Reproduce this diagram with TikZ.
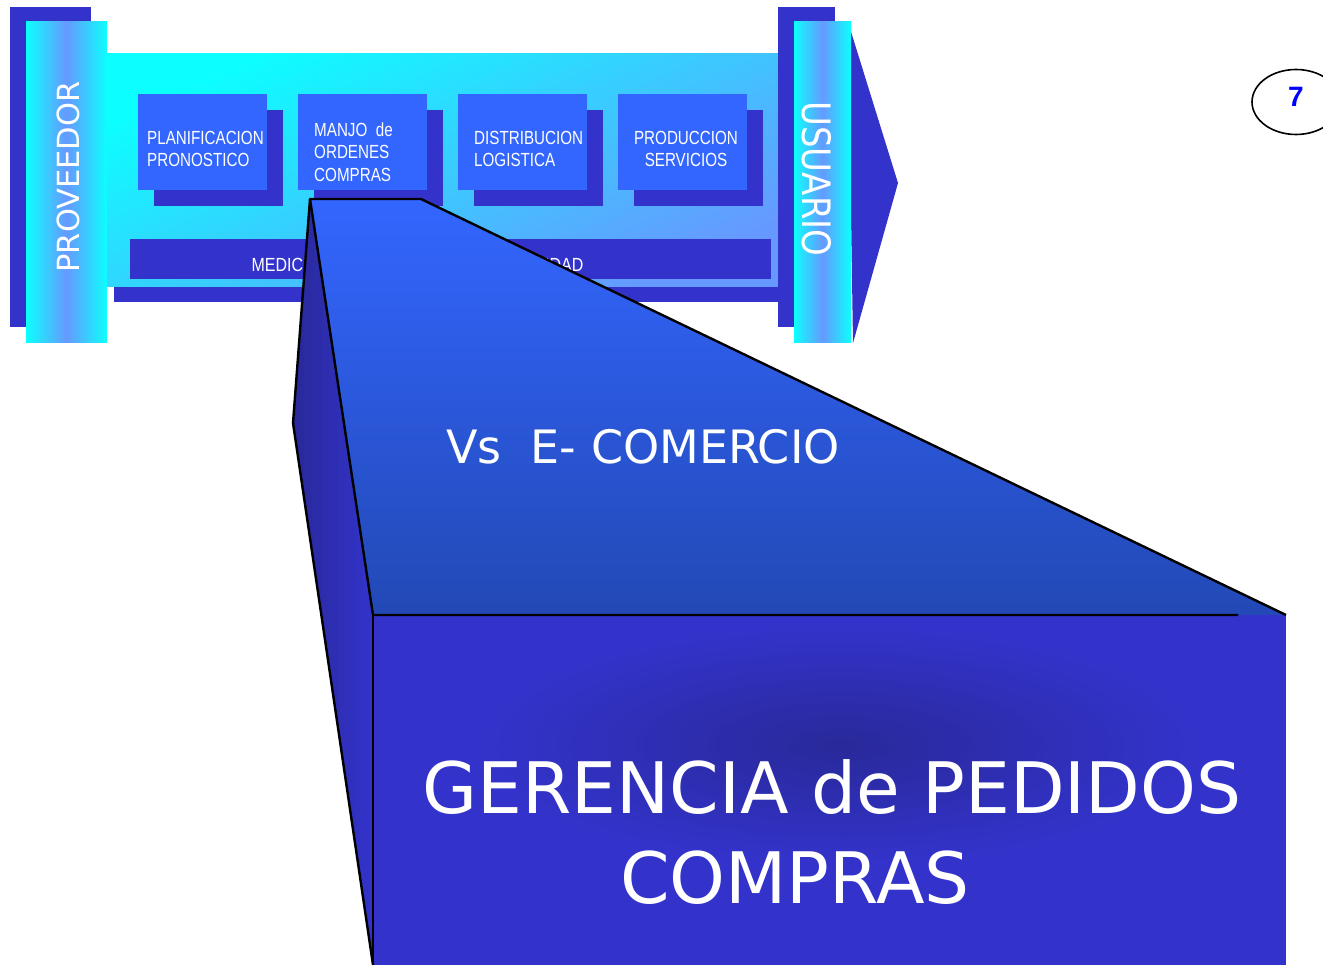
\documentclass[tikz,border=0pt]{standalone}
\usepackage{fontspec}
\usepackage{xcolor}
\usepackage{tikz}
\usetikzlibrary{shapes.geometric, shadows}
\newfontfamily\stagefont[FakeStretch=0.8]{Liberation Sans}
\newfontfamily\headfont{DejaVu Sans}
\newfontfamily\numfont{Liberation Sans}
\definecolor{indigo}{HTML}{3333CC}
\definecolor{royal}{HTML}{3366FF}
\definecolor{periwinkle}{HTML}{6699FF}
\definecolor{aqua}{HTML}{0CFFFF}
\definecolor{deepindigo}{HTML}{29299A}
\definecolor{steel}{HTML}{2249B5}
\tikzset{
    stage/.style={fill=royal, minimum width=129pt, minimum height=96pt, inner sep=0pt,
        drop shadow={shadow xshift=16pt, shadow yshift=-16pt, opacity=1, fill=indigo}},
    stagetext/.style={text=white, inner sep=0pt, align=left, font=\stagefont\fontsize{19}{22.5}\selectfont},
    pillar/.style={left color=aqua, right color=aqua, middle color=periwinkle},
    pillartext/.style={text=white, inner sep=0pt, font=\headfont\fontsize{30.5}{36}\selectfont},
    headtext/.style={text=white, inner sep=0pt, anchor=base},
    outline/.style={draw=black, line width=2.4pt, line join=round}
}

\begin{document}
\begin{tikzpicture}[x=1pt, y=-1pt]
    \useasboundingbox (0,0) rectangle (1323,965);
    % proveedor
    \fill[indigo] (10,7) rectangle (91,327);
    \shade[pillar] (26,22) rectangle (107,343);
    \node[pillartext, rotate=90] (proveedor) at (68.5,177) {PROVEEDOR};
    % cadena
    \fill[indigo] (114,70) rectangle (778,302);
    \shade[top color=aqua, bottom color=periwinkle, shading angle=25] (107,54) rectangle (778,287);
    % usuario
    \fill[indigo] (778,7) rectangle (835,327);
    \fill[indigo] (848,22) -- (898,183) -- (853,343) -- cycle;
    \shade[pillar] (794,22) rectangle (851,343);
    \node[pillartext, font=\headfont\fontsize{34}{40}\selectfont, rotate=-90] (usuario) at (817,179) {\scalebox{1}[1.15]{USUARIO}};
    % etapas
    \node[stage] (plan) at (202.5,142) {};
    \node[stage] (ordenes) at (362.5,142) {};
    \node[stage] (distrib) at (522.5,142) {};
    \node[stage] (produc) at (682.5,142) {};
    \node[stagetext, anchor=west] (plantext) at (147,149) {PLANIFICACION\\PRONOSTICO};
    \node[stagetext, anchor=west] (ordtext) at (314,152) {MANJO\ \ de\\ORDENES\\COMPRAS};
    \node[stagetext, anchor=west] (distext) at (474,149) {DISTRIBUCION\\LOGISTICA};
    \node[stagetext, align=center] (prodtext) at (686,149) {PRODUCCION\\SERVICIOS};
    \fill[indigo] (130,239) rectangle (771,279);
    \node[stagetext, anchor=base] (medicion) at (417.5,272) {\scalebox{1.05}[1]{MEDICION DE CALIDAD Y PRODUCTIVIDAD}};
    % zoom
    \coordinate (apex) at (310,199);
    \coordinate (apexr) at (421,199);
    \coordinate (knee) at (293,423);
    \coordinate (frontnw) at (373,615);
    \coordinate (frontne) at (1286,615);
    \coordinate (frontsw) at (373,965);
    \coordinate (frontse) at (1286,965);
    \coordinate (lipend) at (1238,615);
    \shade[top color=royal, bottom color=steel] (apex) -- (apexr) -- (frontne) -- (frontnw) -- cycle;
    \shade[left color=deepindigo, right color=indigo] (apex) -- (knee) -- (frontsw) -- (frontnw) -- cycle;
    \fill[indigo] (frontnw) rectangle (frontse);
    \begin{scope}
        \clip (frontnw) rectangle (frontse);
        \shade[inner color=deepindigo, outer color=indigo] (840,745) ellipse [x radius=360, y radius=120];
    \end{scope}
    \draw[outline] (knee) -- (apex) -- (apexr) -- (frontne);
    \draw[outline] (apex) -- (frontnw) -- (lipend);
    \draw[outline] (knee) -- (frontsw);
    \draw[outline] (frontnw) -- (frontsw);
    \node[headtext, font=\headfont\fontsize{46}{55}\selectfont] (versus) at (643,464) {Vs\ \ E- COMERCIO};
    \node[headtext, font=\headfont\fontsize{71}{85}\selectfont] (gerencia) at (832,813) {GERENCIA de PEDIDOS};
    \node[headtext, font=\headfont\fontsize{71}{85}\selectfont] (compras) at (795,903) {COMPRAS};
    % pagina
    \node[draw, ellipse, line width=1.6pt, minimum width=88pt, minimum height=65pt, inner sep=0pt] (pagina) at (1296,102) {};
    \node[text=blue, font=\numfont\bfseries\fontsize{28}{30}\selectfont] (numero) at (1296,97) {7};
\end{tikzpicture}
\end{document}
